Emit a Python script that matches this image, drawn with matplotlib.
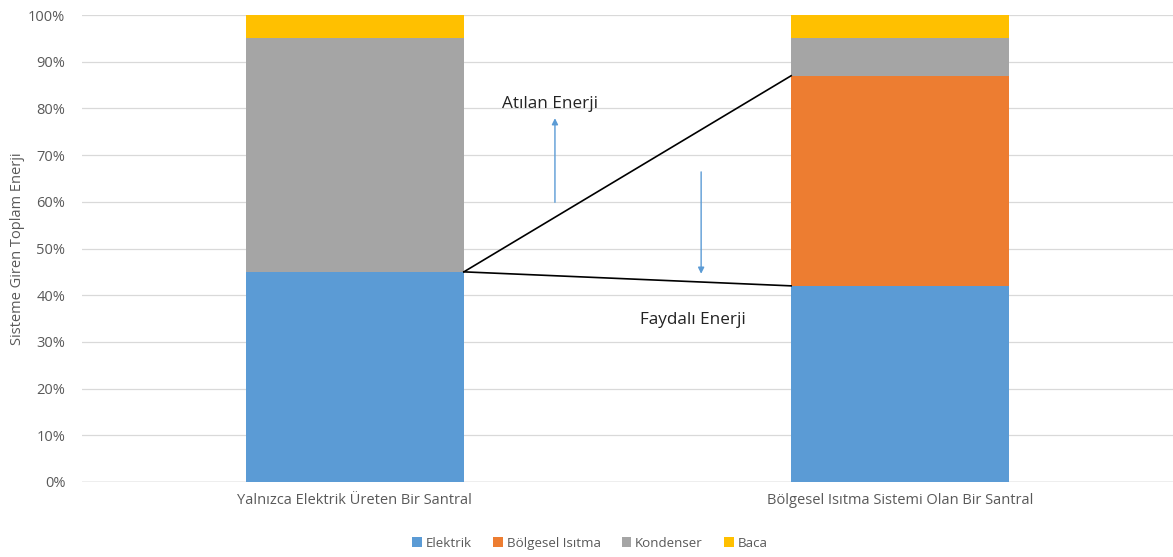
import matplotlib
matplotlib.use("Agg")
import matplotlib.pyplot as plt
import numpy as np

plt.rcParams["font.family"] = ["Open Sans", "DejaVu Sans"]

# Data (share of total energy entering the system, %)
CATEGORIES = ["Yalnızca Elektrik Üreten Bir Santral", "Bölgesel Isıtma Sistemi Olan Bir Santral"]
SERIES = ["Elektrik", "Bölgesel Isıtma", "Kondenser", "Baca"]
ELEKTRIK = [45, 42]
BOLGESEL = [0, 45]
KONDENSER = [50, 8]
BACA = [5, 5]
COLORS = ["#5B9BD5", "#ED7D31", "#A5A5A5", "#FFC000"]

BAR_W = 0.4
GREY = "#595959"

fig = plt.figure(figsize=(11.73, 5.57), dpi=100)
ax = fig.add_axes([0.0699, 0.1347, 0.9301, 0.8383])

x = np.arange(len(CATEGORIES))
bottom = np.zeros(len(CATEGORIES))
for name, vals, col in zip(SERIES, [ELEKTRIK, BOLGESEL, KONDENSER, BACA], COLORS):
    vals = np.array(vals, dtype=float)
    ax.bar(x, vals, BAR_W, bottom=bottom, color=col, label=name, zorder=2)
    bottom += vals

ax.set_xlim(-0.5, 1.5)
ax.set_ylim(0, 100)
ax.set_yticks(np.arange(0, 101, 10))
ax.set_yticklabels([f"{v}%" for v in range(0, 101, 10)])
ax.set_xticks(x)
ax.set_xticklabels(CATEGORIES)
ax.grid(axis="y", color="#D9D9D9", lw=0.9, zorder=0)
for s in ax.spines.values():
    s.set_visible(False)
ax.axhline(0, color="#BFBFBF", lw=1, zorder=1)
ax.tick_params(axis="both", length=0, colors=GREY, labelsize=10.5)
ax.tick_params(axis="y", pad=12)
ax.tick_params(axis="x", pad=8)
ax.set_ylabel("Sisteme Giren Toplam Enerji", color=GREY, fontsize=10.5, labelpad=2)

# connecting lines between the useful-energy levels of both bars
x0 = x[0] + BAR_W / 2
x1 = x[1] - BAR_W / 2
e0 = ELEKTRIK[0]
ax.plot([x0, x1], [e0, ELEKTRIK[1] + BOLGESEL[1]], color="black", lw=1.2, zorder=3)
ax.plot([x0, x1], [e0, ELEKTRIK[1]], color="black", lw=1.2, zorder=3)

ax.annotate("", xy=(0.367, 78.5), xytext=(0.367, 59.3),
            arrowprops=dict(arrowstyle="-|>", color="#5B9BD5", lw=1, mutation_scale=9))
ax.annotate("", xy=(0.635, 44.0), xytext=(0.635, 67.0),
            arrowprops=dict(arrowstyle="-|>", color="#5B9BD5", lw=1, mutation_scale=9))
ax.text(0.358, 81, "Atılan Enerji", ha="center", va="center", fontsize=12.3, color="#222222")
ax.text(0.619, 34.7, "Faydalı Enerji", ha="center", va="center", fontsize=12.3, color="#222222")

fig.legend(loc="center", bbox_to_anchor=(0.503, 0.025), ncol=4, frameon=False,
           fontsize=9.6, labelcolor=GREY, handlelength=0.7, handleheight=0.7,
           handletextpad=0.3, columnspacing=1.6)

fig.savefig("out.png", dpi=100)
